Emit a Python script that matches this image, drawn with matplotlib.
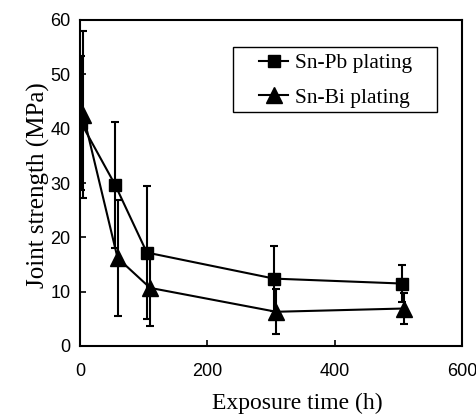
import matplotlib
matplotlib.use("Agg")
import matplotlib.pyplot as plt
from matplotlib.patches import Rectangle

time_pb = [2, 55, 105, 305, 505]
pb_mean = [41.0, 29.7, 17.2, 12.4, 11.5]
pb_err = [12.3, 11.6, 12.3, 6.0, 3.4]

time_bi = [5, 59, 110, 308, 509]
bi_mean = [42.6, 16.2, 10.7, 6.3, 6.9]
bi_err = [15.3, 10.6, 7.0, 4.1, 2.9]

xticks = [0, 200, 400, 600]
yticks = [0, 10, 20, 30, 40, 50, 60]

fig = plt.figure(figsize=(4.76, 4.16), dpi=100)
ax = fig.add_axes([80/476, 70/416, 382/476, 326/416])

lw = 1.5
ax.errorbar(time_pb, pb_mean, yerr=pb_err, color='black', marker='s', markersize=8.4,
            linewidth=lw, elinewidth=lw, capsize=2.8, capthick=lw, label='Sn-Pb plating')
ax.errorbar(time_bi, bi_mean, yerr=bi_err, color='black', marker='^', markersize=11.5,
            linewidth=lw, elinewidth=lw, capsize=2.8, capthick=lw, label='Sn-Bi plating')

ax.set_xlim(0, 600)
ax.set_ylim(0, 60)
ax.set_xticks(xticks)
ax.set_yticks(yticks)
ax.tick_params(direction='in', length=4.5, width=1.2, top=False, right=False)
ax.tick_params(axis='y', pad=7)
ax.tick_params(axis='x', pad=12)
for lab in ax.get_xticklabels() + ax.get_yticklabels():
    lab.set_family('Liberation Sans')
    lab.set_fontsize(13)
for s in ax.spines.values():
    s.set_linewidth(1.5)

ax.set_xlabel('Exposure time (h)', family='Liberation Serif', fontsize=17)
ax.xaxis.set_label_coords((297.5 - 80) / 382, (346 - 403) / 326)
ax.xaxis.label.set_va('center')
ax.set_ylabel('Joint strength (MPa)', family='Liberation Serif', fontsize=18)
ax.yaxis.set_label_coords((38 - 80) / 382, (346 - 185) / 326)
ax.yaxis.label.set_va('center')

handles, labels = ax.get_legend_handles_labels()
handles = [h[0] for h in handles]
leg = ax.legend(handles, labels, loc='center left',
                bbox_to_anchor=((259 - 80) / 382, (346 - 80.5) / 326),
                prop={'family': 'Liberation Serif', 'size': 15.5}, frameon=False,
                handlelength=1.35, handletextpad=0.33, borderpad=0, borderaxespad=0,
                labelspacing=0.68)
ax.add_patch(Rectangle(((233 - 80) / 382, (346 - 112) / 326), (437 - 233) / 382, 65 / 326,
                       transform=ax.transAxes, fill=False, edgecolor='black', linewidth=1.0,
                       zorder=5))

fig.savefig('out.png', dpi=100)
